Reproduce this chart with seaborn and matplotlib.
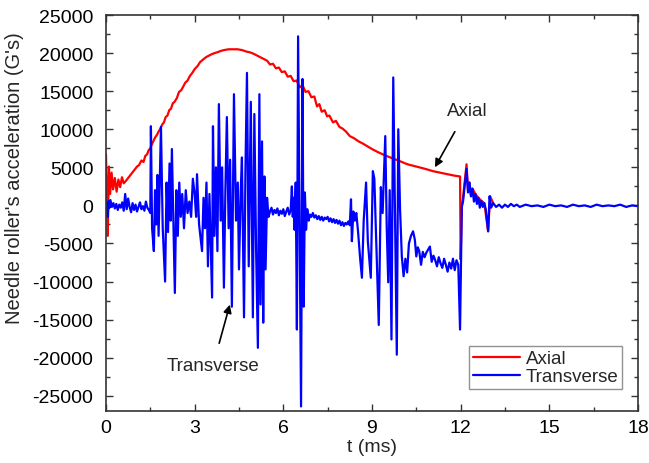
import matplotlib
matplotlib.use("Agg")
import matplotlib.pyplot as plt
import seaborn as sns
import pandas as pd
from matplotlib.ticker import MultipleLocator

# ---------------- data ----------------
axial_t = [0.00, 0.03, 0.06, 0.10, 0.14, 0.19, 0.24, 0.30, 0.36, 0.42, 0.48, 0.54, 0.60, 0.67,
           0.75, 0.85, 0.95, 1.05, 1.12, 1.20, 1.27, 1.33, 1.39, 1.45, 1.49, 1.55, 1.60, 1.66,
           1.73, 1.78, 1.83, 1.90, 1.96, 2.02, 2.08, 2.14, 2.20, 2.26, 2.32, 2.40, 2.47, 2.54,
           2.60, 2.68, 2.76, 2.84, 2.92, 3.00, 3.10, 3.18, 3.30, 3.40, 3.50, 3.60, 3.76, 3.90,
           4.00, 4.15, 4.30, 4.45, 4.60, 4.75, 4.87, 5.00, 5.10, 5.20, 5.30, 5.45, 5.55, 5.65,
           5.75, 5.85, 5.95, 6.05, 6.15, 6.25, 6.35, 6.45, 6.56, 6.65, 6.75, 6.85, 6.95, 7.05,
           7.14, 7.22, 7.30, 7.40, 7.48, 7.56, 7.68, 7.78, 7.90, 8.00, 8.12, 8.25, 8.40, 8.55,
           8.70, 8.83, 9.00, 9.20, 9.37, 9.55, 9.75, 9.95, 10.20, 10.50, 10.80, 11.06, 11.30,
           11.55, 11.80, 11.98, 12.00, 12.04, 12.08, 12.12, 12.20, 12.25, 12.30, 12.35, 12.40,
           12.50, 12.60, 12.70, 12.80, 12.93, 13.00, 13.10]
axial_v = [6700, 1700, -4000, 5100, 1500, 4300, 2100, 3600, 1800, 3400, 2400, 3700, 2900, 3200,
           3600, 4100, 4600, 5100, 5300, 5900, 5700, 6500, 6700, 7300, 7400, 8000, 8400, 8900,
           9300, 9700, 10000, 10600, 10900, 11600, 11800, 12500, 12700, 13400, 13600, 14100, 14900, 15100,
           15500, 16100, 16400, 17000, 17400, 17900, 18300, 18800, 19200, 19500, 19700, 19900, 20100, 20300,
           20400, 20500, 20500, 20500, 20400, 20200, 20100, 19900, 19700, 19500, 19300, 19000, 18500, 18600,
           18000, 18100, 17500, 17600, 16900, 17000, 16300, 16400, 15500, 15800, 14900, 15000, 14200, 14300,
           13000, 13300, 12300, 12500, 11700, 11800, 10900, 11100, 10300, 10100, 9700, 9100, 8800, 8400,
           8100, 7800, 7400, 7000, 6700, 6400, 6100, 5800, 5400, 5100, 4800, 4500, 4300,
           4100, 3900, 3800, -7100, -200, 900, 2500, 5400, 1900, 3000, 1200, 2200,
           1500, 1000, 600, 300, -3400, 1200, 300]

transverse_t = [0.00, 0.03, 0.06, 0.09, 0.12, 0.15, 0.20, 0.25, 0.30, 0.35, 0.40, 0.45, 0.50,
                0.55, 0.60, 0.65, 0.70, 0.75, 0.80, 0.85, 0.90, 0.95, 1.00, 1.05, 1.10, 1.15,
                1.20, 1.25, 1.30, 1.35, 1.40, 1.45, 1.50, 1.52, 1.56, 1.62, 1.66, 1.70, 1.74,
                1.78, 1.86, 1.92, 2.00, 2.05, 2.10, 2.15, 2.19, 2.23, 2.33, 2.38, 2.43, 2.48,
                2.53, 2.58, 2.64, 2.70, 2.76, 2.82, 2.88, 2.94, 3.00, 3.05, 3.08, 3.15, 3.25,
                3.30, 3.35, 3.40, 3.45, 3.50, 3.59, 3.62, 3.67, 3.72, 3.77, 3.82, 3.88, 3.93,
                3.99, 4.04, 4.09, 4.15, 4.20, 4.26, 4.33, 4.40, 4.46, 4.50, 4.56, 4.60, 4.67,
                4.72, 4.77, 4.83, 4.90, 4.97, 5.02, 5.08, 5.14, 5.19, 5.23, 5.28, 5.32, 5.36,
                5.40, 5.45, 5.50, 5.55, 5.60, 5.65, 5.70, 5.75, 5.80, 5.85, 5.90, 5.95, 6.00,
                6.05, 6.10, 6.15, 6.20, 6.25, 6.29, 6.32, 6.35, 6.38, 6.42, 6.46, 6.50, 6.60,
                6.65, 6.69, 6.73, 6.77, 6.81, 6.86, 6.90, 6.95, 7.00, 7.05, 7.10, 7.15, 7.20,
                7.25, 7.30, 7.35, 7.40, 7.45, 7.50, 7.55, 7.60, 7.65, 7.70, 7.75, 7.80, 7.85,
                7.90, 7.95, 8.00, 8.05, 8.10, 8.15, 8.20, 8.25, 8.29, 8.32, 8.37, 8.42, 8.47,
                8.53, 8.60, 8.66, 8.72, 8.80, 8.86, 8.96, 9.03, 9.08, 9.13, 9.23, 9.30, 9.36,
                9.45, 9.50, 9.55, 9.60, 9.66, 9.72, 9.79, 9.84, 9.89, 9.95, 10.01, 10.07, 10.13,
                10.19, 10.25, 10.32, 10.39, 10.45, 10.50, 10.55, 10.60, 10.66, 10.72, 10.78,
                10.84, 10.90, 10.96, 11.02, 11.08, 11.14, 11.20, 11.26, 11.32, 11.38, 11.44,
                11.50, 11.56, 11.62, 11.68, 11.74, 11.80, 11.86, 11.92, 11.98, 12.04, 12.08,
                12.12, 12.20, 12.25, 12.30, 12.35, 12.40, 12.45, 12.50, 12.55, 12.60, 12.65,
                12.70, 12.75, 12.80, 12.85, 12.93, 12.98, 13.03, 13.10, 13.20, 13.30, 13.40,
                13.50, 13.60, 13.70, 13.80, 13.90, 14.00, 14.20, 14.40, 14.60, 14.80, 15.00,
                15.20, 15.40, 15.60, 15.80, 16.00, 16.20, 16.40, 16.60, 16.80, 17.00, 17.20,
                17.40, 17.60, 17.80, 18.00]
transverse_v = [-800, 300, -1500, 600, -300, 700, -200, 300, -400, 200, -600, 100, -300,
                400, -700, 1500, -500, 900, -200, -900, 300, -600, 100, -800, -200, 400,
                -500, -100, -700, 500, -300, -600, -1000, 10400, -3000, -6000, 2000, -2500, 4000,
                -4000, 10300, -3000, -10000, 3000, -3500, 5500, -2000, 7400, -11500, 2000, -4000, 3000,
                -1500, 1500, -3000, 2000, -1000, 500, -1500, 3500, 1500, -1500, 4100, -2500, -6000,
                1000, -3000, 3000, -8000, 1500, -12100, 10400, -4000, 5000, -6000, 13300, -2000, 5000,
                -10800, 2000, 11600, -3000, 6000, -13300, 14600, -2000, 3000, -8400, 2000, 6300, -14700,
                5000, 17400, -8000, 13600, -14700, 12000, -6000, -18700, 14600, -13000, 8400, -15400, 3800,
                -8400, 1000, -1500, -800, -300, -1200, -600, -1000, -400, -1300, -700, -1100, -500,
                -1400, -800, -300, -1200, -600, 2500, -1500, 1000, -3200, 3000, -16300, 22200, -26400,
                16600, -13300, 1700, -3200, -500, -2000, -1200, -1500, -1000, -1600, -1300, -1800, -1400,
                -1900, -1500, -2000, -1600, -1800, -1500, -2100, -1700, -2200, -1800, -2300, -1900, -2400,
                -2000, -2600, -2200, -2700, -2300, -2500, -2100, -2600, 800, -4700, -800, -2000, -1000,
                -3500, -7000, -9500, -2000, 3000, -4700, -9500, 4500, 3500, -3000, -15700, 2400, -1000,
                9100, -3000, -10100, 2000, -17600, 16800, -4000, -19600, 10000, -500, -6700, -9300, -7000,
                -8800, -5000, -4000, -3400, -4500, -6700, -5500, -6000, -7800, -6100, -6800,
                -6200, -5800, -5400, -7400, -6600, -7200, -8000, -6800, -7600, -8200, -7000,
                -7800, -8700, -7500, -8300, -7000, -8500, -7200, -7800, -16300, -100, 500,
                2000, 4800, 1700, 3000, 1200, 2200, 500, 1500, 200, 1000, -300,
                600, -200, 300, -500, -3400, 1200, -300, 300, -200, 100, -300,
                100, -200, 200, -100, 100, -200, 100, -100, 0, -200, 100,
                -100, 0, -200, 100, -100, 0, -200, 100, -100, 0, -100,
                100, -200, 0, -100]

series_names = ["Axial", "Transverse"]
series_colors = ["#ff0000", "#0000ff"]

x_ticks = [0, 3, 6, 9, 12, 15, 18]
y_ticks = [-25000, -20000, -15000, -10000, -5000, 0, 5000, 10000, 15000, 20000, 25000]

# ---------------- figure ----------------
sns.set_style("ticks")
plt.rcParams["font.family"] = ["Liberation Sans", "DejaVu Sans"]

fig = plt.figure(figsize=(6.49, 4.64), dpi=100)
ax = fig.add_axes([0.1633, 0.112, 0.8197, 0.8535])

df = pd.concat([
    pd.DataFrame({"t": axial_t, "v": axial_v, "series": series_names[0]}),
    pd.DataFrame({"t": transverse_t, "v": transverse_v, "series": series_names[1]}),
], ignore_index=True)

sns.lineplot(data=df, x="t", y="v", hue="series", hue_order=series_names,
             palette=dict(zip(series_names, series_colors)), sort=False,
             estimator=None, linewidth=1.6, ax=ax)

ax.set_xlim(0, 18)
ax.set_ylim(-27000, 25000)
ax.set_xticks(x_ticks)
ax.set_yticks(y_ticks)
ax.set_xticklabels([str(v) for v in x_ticks])
ax.set_yticklabels([str(v) for v in y_ticks])
ax.xaxis.set_minor_locator(MultipleLocator(1.5))
ax.yaxis.set_minor_locator(MultipleLocator(2500))
ax.tick_params(which="both", direction="in", top=True, right=True, width=1.0, colors="#333333",
               labelcolor="black")
ax.tick_params(which="major", length=5, labelsize=14)
ax.tick_params(axis="y", which="major", pad=9)
ax.tick_params(axis="x", which="major", pad=6)
ax.tick_params(which="minor", length=3)
for s in ax.spines.values():
    s.set_linewidth(1.2)
    s.set_color("#333333")

ax.set_xlabel("t (ms)", fontsize=14, labelpad=1)
ax.set_ylabel("Needle roller's acceleration (G's)", fontsize=14.5)
ax.yaxis.set_label_coords(-0.154, 0.59)

leg = ax.legend(loc="lower right", bbox_to_anchor=(0.970, 0.0556), borderaxespad=0,
                fontsize=13.5, frameon=True, fancybox=False, edgecolor="#777777",
                handlelength=2.5, handletextpad=0.3, borderpad=0.2, labelspacing=0.05,
                title=None)
leg.get_frame().set_linewidth(1.0)
for line in leg.get_lines():
    line.set_linewidth(1.6)

ax.annotate("Axial", xy=(11.13, 5000), xytext=(12.21, 12500), fontsize=13.5,
            ha="center", va="center",
            arrowprops=dict(arrowstyle="-|>", color="black", lw=1.2, shrinkA=8, shrinkB=0,
                            mutation_scale=12))
ax.annotate("Transverse", xy=(4.19, -13030), xytext=(3.62, -21050), fontsize=13.5,
            ha="center", va="center",
            arrowprops=dict(arrowstyle="-|>", color="black", lw=1.2, shrinkA=8, shrinkB=0,
                            mutation_scale=12))

fig.savefig("out.png", dpi=100)
